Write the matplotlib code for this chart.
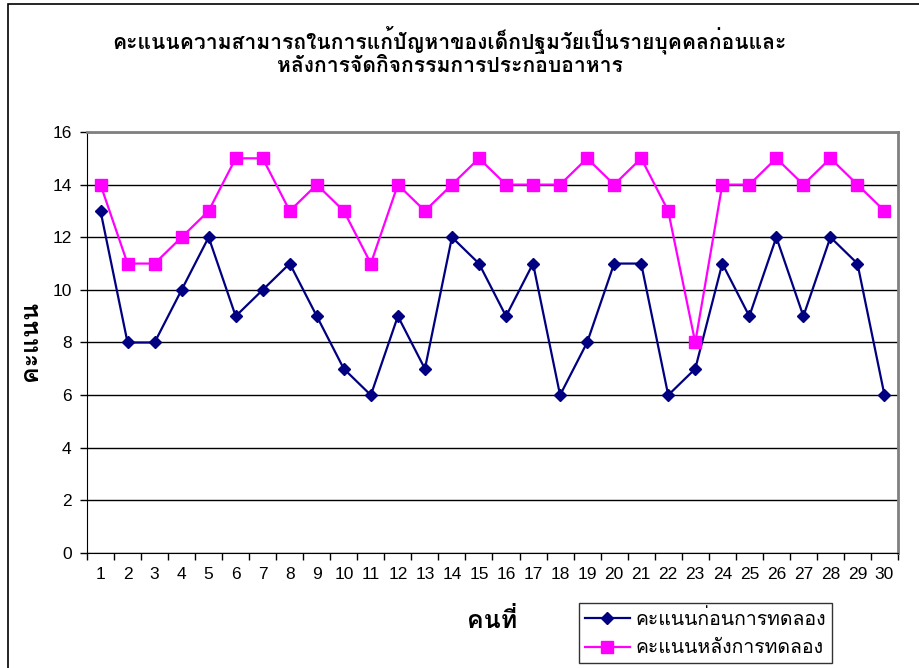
import matplotlib
matplotlib.use('Agg')
import matplotlib.pyplot as plt
from matplotlib.patches import Rectangle

# data
people = list(range(1, 31))
before = [13, 8, 8, 10, 12, 9, 10, 11, 9, 7, 6, 9, 7, 12, 11, 9, 11, 6, 8, 11,
          11, 6, 7, 11, 9, 12, 9, 12, 11, 6]
after = [14, 11, 11, 12, 13, 15, 15, 13, 14, 13, 11, 14, 13, 14, 15, 14, 14, 14, 15, 14,
         15, 13, 8, 14, 14, 15, 14, 15, 14, 13]
yticks = [0, 2, 4, 6, 8, 10, 12, 14, 16]

title = 'คะแนนความสามารถในการแก้ปัญหาของเด็กปฐมวัยเป็นรายบุคคลก่อนและ\nหลังการจัดกิจกรรมการประกอบอาหาร'
ylab = 'คะแนน'
xlab = 'คนที่'
names = ['คะแนนก่อนการทดลอง', 'คะแนนหลังการทดลอง']

plt.rcParams['font.family'] = ['Loma', 'DejaVu Sans']

fig = plt.figure(figsize=(9.2, 6.68), dpi=100)
# outer chart frame (cut at right and bottom like the reference)
fig.patches.append(Rectangle((8/920, -0.1), 1.2, 1 - 4/668 + 0.1, transform=fig.transFigure,
                             fill=False, edgecolor='black', linewidth=1.2))
ax = fig.add_axes([87/920, 1 - 553/668, 811/920, 421/668])

ax.plot(people, before, color='#000080', marker='D', markersize=6.5, linewidth=1.6,
        label=names[0])
ax.plot(people, after, color='#FF00FF', marker='s', markersize=8.5, linewidth=1.6,
        label=names[1])

ax.set_xlim(0.5, 30.5)
ax.set_ylim(0, 16)
ax.set_yticks(yticks)
ax.set_yticklabels([str(v) for v in yticks], family='Liberation Sans', fontsize=12.5)
ax.set_xticks([i + 0.5 for i in range(0, 31)])
ax.set_xticklabels([])
ax.set_xticks(people, minor=True)
ax.set_xticklabels([str(p) for p in people], minor=True, family='Liberation Sans', fontsize=12.5)
ax.tick_params(axis='x', which='minor', length=0, pad=10)
ax.tick_params(axis='both', which='major', length=5, direction='out', width=1, pad=6)
ax.yaxis.grid(True, color='black', linewidth=1)
ax.set_axisbelow(True)
ax.spines['top'].set_color('#808080')
ax.spines['right'].set_color('#808080')
ax.spines['top'].set_linewidth(2)
ax.spines['right'].set_linewidth(2)

fig.text(0.489, 1 - 51/668, title, ha='center', va='center', fontsize=15.2, fontweight='bold',
         linespacing=1.2)
fig.text(31/920, 1 - 341/668, ylab, rotation=90, ha='center', va='center', fontsize=18,
         fontweight='bold')
fig.text(492/920, 1 - 620/668, xlab, ha='center', va='center', fontsize=18, fontweight='bold')

leg = fig.legend(loc='upper left', bbox_to_anchor=(579/920, 1 - 603/668), fontsize=14,
                 frameon=True, fancybox=False, edgecolor='black', borderpad=0.3,
                 borderaxespad=0, handlelength=2.3, handletextpad=0.3, labelspacing=0.55)
leg.get_frame().set_linewidth(1)

fig.savefig('out.png', dpi=100)
